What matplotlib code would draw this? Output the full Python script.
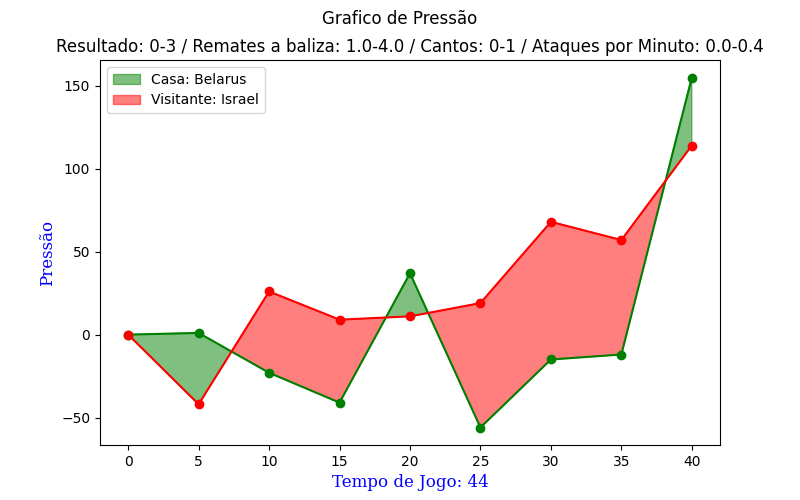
import matplotlib

matplotlib.use("Agg")
from matplotlib import pyplot as plt  # noqa: E402
import numpy as np  # noqa: E402

minutes = [0, 5, 10, 15, 20, 25, 30, 35, 40]
home_pressure = [0, 1, -23, -41, 37, -56, -15, -12, 155]
away_pressure = [0, -42, 26, 9, 11, 19, 68, 57, 114]
home_label = "Casa: Belarus"
away_label = "Visitante: Israel"

x = np.array(minutes)
h = np.array(home_pressure)
a = np.array(away_pressure)

fig, ax = plt.subplots(figsize=(8, 5), dpi=100)
ax.fill_between(x, h, a, where=h >= a, interpolate=True, color="green", alpha=0.5, label=home_label)
ax.fill_between(x, h, a, where=a > h, interpolate=True, color="red", alpha=0.5, label=away_label)
ax.plot(x, h, color="green", marker="o")
ax.plot(x, a, color="red", marker="o")

fig.suptitle("Grafico de Pressão")
ax.set_title("Resultado: 0-3 / Remates a baliza: 1.0-4.0 / Cantos: 0-1 / Ataques por Minuto: 0.0-0.4")
label_font = {"family": "serif", "color": "blue", "size": 12}
ax.set_xlabel("Tempo de Jogo: 44", fontdict=label_font)
ax.set_ylabel("Pressão", fontdict=label_font)
ax.legend(loc="upper left")

fig.subplots_adjust(left=0.125, right=0.9, top=0.88, bottom=0.11)
fig.savefig("out.png", dpi=100)
plt.close(fig)
